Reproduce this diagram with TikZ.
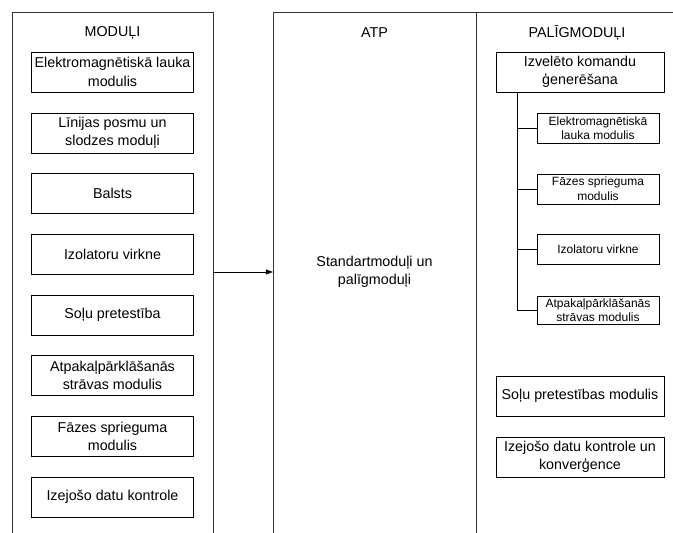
\documentclass[tikz,border=0pt]{standalone}
\usepackage{fontspec}
\setmainfont{Liberation Sans}
\usetikzlibrary{arrows.meta, positioning}

\begin{document}
\begin{tikzpicture}[x=1pt,y=-1pt,node distance=60.7pt,on grid,>={Triangle[length=7pt,width=5pt]},
      every node/.style={font=\fontsize{14.3}{18.6}\selectfont},
      lane/.style={draw=black!80,minimum height=548pt,inner sep=0pt},
      modbox/.style={draw,align=center,minimum width=162pt,minimum height=40pt,inner sep=1pt},
      bigbox/.style={modbox,minimum width=168pt},
      subbox/.style={draw,align=center,minimum width=122pt,minimum height=30pt,inner sep=1pt,
                     font=\fontsize{12}{14.5}\selectfont}]
  \useasboundingbox (0,0) rectangle (673,533);
  % lanes
  \node[lane,minimum width=201pt] (moduli) at (112.5,286) {};
  \node[lane,minimum width=203pt] (atp) at (374.5,286) {};
  \node[lane,minimum width=214pt] (palig) at (583,286) {};
  \node (tmod) at (112.5,33) {MODUĻI};
  \node (tatp) at (374.5,33) {ATP};
  \node (tpal) at (577,33) {PALĪGMODUĻI};

  % MODUĻI
  \node[modbox] (m1) at (112.5,72) {Elektromagnētiskā lauka\\modulis};
  \node[modbox,below=of m1] (m2) {Līnijas posmu un\\slodzes moduļi};
  \node[modbox,below=of m2] (m3) {Balsts};
  \node[modbox,below=of m3] (m4) {Izolatoru virkne};
  \node[modbox,below=of m4] (m5) {Soļu pretestība};
  \node[modbox,below=of m5] (m6) {Atpakaļpārklāšanās\\strāvas modulis};
  \node[modbox,below=of m6] (m7) {Fāzes sprieguma\\modulis};
  \node[modbox,below=of m7] (m8) {Izejošo datu kontrole};

  % ATP
  \node[align=center] (std) at (374.5,272) {Standartmoduļi un\\palīgmoduļi};
  \draw[->] (moduli.east |- std) -- (atp.west |- std);

  % PALĪGMODUĻI
  \node[bigbox] (gen) at (580,72) {Izvelēto komandu\\ģenerēšana};
  \node[subbox] (s1) at (598,128) {Elektromagnētiskā\\lauka modulis};
  \node[subbox,below=of s1] (s2) {Fāzes sprieguma\\modulis};
  \node[subbox,below=of s2] (s3) {Izolatoru virkne};
  \node[subbox,below=of s3,minimum height=28pt] (s4) {Atpakaļpārklāšanās\\strāvas modulis};
  \coordinate (trunk) at ([xshift=21pt]gen.south west);
  \draw (trunk) |- (s4.west);
  \foreach \s in {s1,s2,s3}
    \draw (trunk |- \s.west) -- (\s.west);
  \node[bigbox] (solu) at (580,396) {Soļu pretestības modulis};
  \node[bigbox,below=of solu] (izej) {Izejošo datu kontrole un\\konverģence};
\end{tikzpicture}
\end{document}
